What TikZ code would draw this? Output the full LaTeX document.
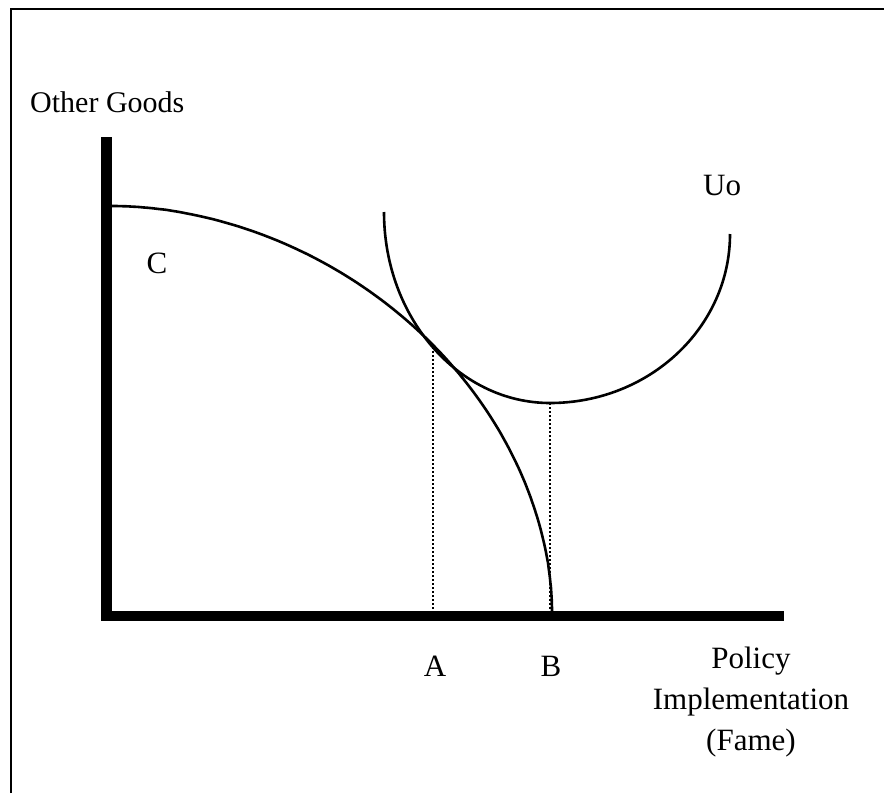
\documentclass[tikz,border=0pt]{standalone}
\usepackage{fontspec}
\setmainfont{Liberation Serif}
\begin{document}
\begin{tikzpicture}[x=1pt,y=-1pt,
  lbl/.style={inner sep=0pt,font=\fontsize{31}{41}\selectfont},
  axisline/.style={line width=11pt},
  curveline/.style={line width=2.6pt},
  guide/.style={line width=2pt,dash pattern=on 2pt off 2pt},
  frameline/.style={line width=2.4pt}]
\useasboundingbox (0,0) rectangle (884,793);
% frame
\draw[frameline] (11,793) -- (11,9) -- (884,9);
% axes
\coordinate (origin) at (106,616);
\coordinate (ytop) at (106,137);
\coordinate (xend) at (784,616);
\draw[axisline] (ytop) -- (106,621);
\draw[axisline,line width=10pt] (101,616) -- (xend);
% production possibility curve C
\coordinate (Cstart) at (112,206);
\coordinate (Cend) at (552,611);
\draw[curveline] (Cend) -- plot[domain=0.05:89.95,samples=120,smooth,variable=\t]
  ({112+440*(cos(\t))^(1.0526)},{612-406*(sin(\t))^(1.0526)}) -- (Cstart);
% indifference curve Uo
\coordinate (Ustart) at (384,212);
\draw[curveline] (Ustart) arc[start angle=180,end angle=90,x radius=166,y radius=191]
  coordinate (Umin)
  arc[start angle=90,end angle=0,x radius=180,y radius=169] coordinate (Uend);
% tangency point and guides
\coordinate (Apt) at (433,347);
\coordinate (Afoot) at (433,611);
\coordinate (Bfoot) at (550,611);
\draw[guide] (Apt) -- (Afoot);
\draw[guide] (Umin) -- (Bfoot);
% labels
\node[lbl,anchor=base west,font=\fontsize{30}{36}\selectfont] (yl) at (30,112) {Other Goods};
\node[lbl,anchor=base] (cl) at (157,273) {C};
\node[lbl,anchor=base west] (ul) at (703,195) {Uo};
\node[lbl,anchor=base] (al) at (435,676) {A};
\node[lbl,anchor=base] (bl) at (551,676) {B};
\node[lbl,anchor=north,align=center] (xl) at (751,647) {Policy\\Implementation\\(Fame)};
\end{tikzpicture}
\end{document}
